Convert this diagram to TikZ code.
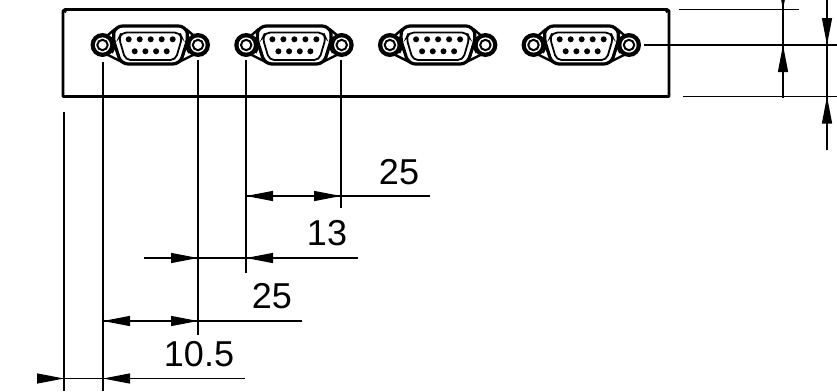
\documentclass[tikz,border=0pt]{standalone}
\usepackage{fontspec}
\setmainfont{Liberation Sans}
\usetikzlibrary{arrows.meta}
\tikzset{
  dimline/.style={line width=1.2pt,black},
  tip/.style={-{Triangle[length=27pt,width=10pt,sep=0pt]},line width=1.2pt,black,shorten >=0pt},
  panel/.style={line width=2.8pt,black,line join=round},
  dimtext/.style={font=\fontsize{36}{36}\selectfont,inner sep=0pt,anchor=center},
  pics/dsub/.style={code={
    % flange lines
    \draw[black,line width=2.4pt] (-45,-10) -- (-38,-16) (-45,10) -- (-31,17);
    \draw[black,line width=2.4pt] (40,-10) -- (33,-16) (40,10) -- (26,17);
    \draw[black,line width=1.8pt] (-41,-8) -- (-37,0) -- (-41,8);
    \draw[black,line width=1.8pt] (36,-8) -- (32,0) -- (36,8);
    % mounting rings
    \foreach \hx in {-50.5,45} {
      \fill[black] (\hx,0) circle (12);
      \fill[white] (\hx,0) circle (7.6);
      \draw[black,line width=2pt] (\hx,0) circle (5.2);
    }
    % shell
    \draw[black,line width=3.2pt,fill=white,rounded corners=7pt]
      (-37.5,-19) -- (32.5,-19) -- (35.5,-8) -- (27,19) -- (-32,19) -- (-40.5,-8) -- cycle;
    \draw[black,line width=1.8pt,rounded corners=5pt]
      (-31.5,-12.5) -- (26.5,-12.5) -- (29,-7) -- (22.5,15) -- (-27.5,15) -- (-34,-7) -- cycle;
    \foreach \x in {-24.3,-13.3,-2.3,8.7,19.7} \fill[black] (\x,-5.7) circle (3);
    \foreach \x in {-18.3,-7.6,3.1,13.7} \fill[black] (\x,6.3) circle (3);
  }},
}
\begin{document}
\begin{tikzpicture}[x=1pt,y=-1pt]
\useasboundingbox (0,0) rectangle (837,391);
% panel
\draw[panel] (63,96.5) -- (63,11) -- (65,9.5) -- (667,9.5) -- (669,11) -- (669,96.5) -- cycle;
\fill[black] (65.2,11.6) circle (1.5);
\fill[black] (666.8,11.6) circle (1.5);
% connectors
\foreach \cx [count=\i] in {153,296.7,440.4,584} \pic (conn\i) at (\cx,45) {dsub};
% named coordinates
\coordinate (a) at (64,378.5);
\coordinate (b) at (103,378.5);
\coordinate (c) at (103,321);
\coordinate (d) at (198,321);
\coordinate (e) at (198,258);
\coordinate (f) at (246,258);
\coordinate (g) at (246,196);
\coordinate (h) at (341,196);
% extension lines
\draw[dimline] (64,112) -- (64,391);
\draw[dimline] (103,62) -- (103,391);
\draw[dimline] (198,60) -- (198,335);
\draw[dimline] (246,60) -- (246,273);
\draw[dimline] (341,60) -- (341,208);
\draw[dimline] (679,9.5) -- (799,9.5);
\draw[dimline] (644,45) -- (837,45);
\draw[dimline] (683,96.5) -- (837,96.5);
% horizontal dimensions
\draw[dimline] (38,378.5) -- (245,378.5);
\draw[tip] (38,378.5) -- (a);
\draw[tip] (130,378.5) -- (b);
\draw[dimline] (c) -- (302,321);
\draw[tip] (130,321) -- (c);
\draw[tip] (171,321) -- (d);
\draw[dimline] (144,258) -- (358,258);
\draw[tip] (171,258) -- (e);
\draw[tip] (273,258) -- (f);
\draw[dimline] (g) -- (430,196);
\draw[tip] (273,196) -- (g);
\draw[tip] (314,196) -- (h);
% vertical dimensions
\coordinate (p) at (783,9.5);
\coordinate (q) at (783,45);
\coordinate (r) at (827,45);
\coordinate (s) at (827,96.5);
\draw[dimline] (783,0) -- (783,98);
\draw[tip] (783,-17.5) -- (p);
\draw[tip] (783,72) -- (q);
\draw[dimline] (827,0) -- (827,150);
\draw[tip] (827,18) -- (r);
\draw[tip] (827,123.5) -- (s);
% labels
\node[dimtext] (t1) at (399,172) {25};
\node[dimtext] (t2) at (327,233) {13};
\node[dimtext] (t3) at (272,296) {25};
\node[dimtext] (t4) at (199,354) {10.5};
\end{tikzpicture}
\end{document}
